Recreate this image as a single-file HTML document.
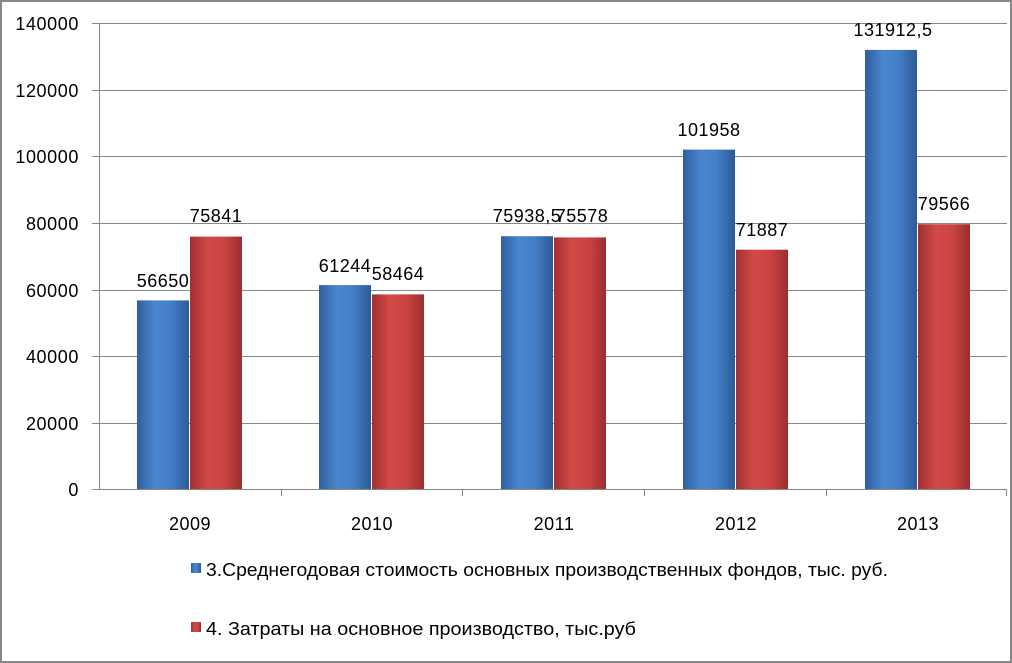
<!DOCTYPE html>
<html><head><meta charset="utf-8"><style>
html,body{margin:0;padding:0;background:#fff}
svg{display:block;font-family:"Liberation Sans","DejaVu Sans",sans-serif}
</style></head><body>
<svg width="1012" height="663" viewBox="0 0 1012 663">
<defs>
<linearGradient id="gb" x1="0" x2="1" y1="0" y2="0">
<stop offset="0" stop-color="#2f5f9e"/><stop offset="0.35" stop-color="#4a86d0"/><stop offset="0.65" stop-color="#447ec8"/><stop offset="1" stop-color="#2c5a96"/></linearGradient>
<linearGradient id="gr" x1="0" x2="1" y1="0" y2="0">
<stop offset="0" stop-color="#a23030"/><stop offset="0.35" stop-color="#d24a48"/><stop offset="0.65" stop-color="#cc4442"/><stop offset="1" stop-color="#9c2e2e"/></linearGradient>
</defs>
<rect x="1" y="1" width="1010" height="661" fill="#fff" stroke="#888" stroke-width="2"/>
<g stroke="#888" stroke-width="1">
<line x1="92" x2="1007" y1="23.5" y2="23.5"/>
<line x1="92" x2="1007" y1="90.5" y2="90.5"/>
<line x1="92" x2="1007" y1="156.5" y2="156.5"/>
<line x1="92" x2="1007" y1="223.5" y2="223.5"/>
<line x1="92" x2="1007" y1="290.5" y2="290.5"/>
<line x1="92" x2="1007" y1="356.5" y2="356.5"/>
<line x1="92" x2="1007" y1="423.5" y2="423.5"/>
<line x1="92" x2="1007" y1="489.5" y2="489.5"/>
<line x1="99.5" x2="99.5" y1="23" y2="489"/>
<line x1="281.5" x2="281.5" y1="489" y2="496"/>
<line x1="462.5" x2="462.5" y1="489" y2="496"/>
<line x1="644.5" x2="644.5" y1="489" y2="496"/>
<line x1="826.5" x2="826.5" y1="489" y2="496"/>
<line x1="1006.5" x2="1006.5" y1="489" y2="496"/>
</g>
<g font-size="18" fill="#000" text-anchor="end" letter-spacing="0.6">
<text x="79" y="30">140000</text><text x="79" y="97">120000</text><text x="79" y="163">100000</text>
<text x="79" y="230">80000</text><text x="79" y="297">60000</text><text x="79" y="363">40000</text>
<text x="79" y="430">20000</text><text x="79" y="496">0</text>
</g>
<g>
<rect x="137" y="300.4" width="52" height="188.6" fill="url(#gb)"/>
<rect x="190" y="236.6" width="52" height="252.4" fill="url(#gr)"/>
<rect x="319" y="285.1" width="52" height="203.9" fill="url(#gb)"/>
<rect x="372" y="294.4" width="52" height="194.6" fill="url(#gr)"/>
<rect x="501" y="236.2" width="52" height="252.8" fill="url(#gb)"/>
<rect x="554" y="237.4" width="52" height="251.6" fill="url(#gr)"/>
<rect x="683" y="149.6" width="52" height="339.4" fill="url(#gb)"/>
<rect x="736" y="249.7" width="52" height="239.3" fill="url(#gr)"/>
<rect x="865" y="49.9" width="52" height="439.1" fill="url(#gb)"/>
<rect x="918" y="224.2" width="52" height="264.8" fill="url(#gr)"/>
</g>
<g font-size="18" fill="#000" text-anchor="middle" letter-spacing="0.5">
<text x="163" y="287">56650</text><text x="216" y="222">75841</text>
<text x="345" y="272">61244</text><text x="398" y="280">58464</text>
<text x="527" y="222">75938,5</text><text x="582" y="222">75578</text>
<text x="709" y="136">101958</text><text x="762" y="236">71887</text>
<text x="893" y="36">131912,5</text><text x="944" y="210">79566</text>
<text x="190" y="530">2009</text><text x="372" y="530">2010</text><text x="554" y="530">2011</text>
<text x="736" y="530">2012</text><text x="918" y="530">2013</text>
</g>
<rect x="191" y="563" width="10" height="10" fill="url(#gb)"/>
<rect x="191" y="622" width="10" height="10" fill="url(#gr)"/>
<g font-size="18" fill="#000">
<text x="206" y="576" textLength="682" lengthAdjust="spacingAndGlyphs">3.Среднегодовая стоимость основных производственных фондов, тыс. руб.</text>
<text x="206" y="635" textLength="430" lengthAdjust="spacingAndGlyphs">4. Затраты на основное производство, тыс.руб</text>
</g>
</svg>
</body></html>
